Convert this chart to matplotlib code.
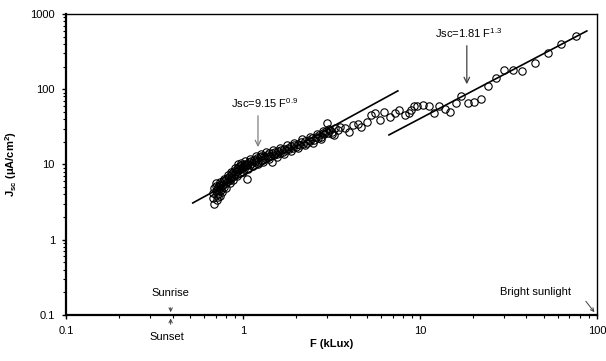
import numpy as np
import matplotlib
matplotlib.use('Agg')
import matplotlib.pyplot as plt
from matplotlib.ticker import FixedLocator, FixedFormatter, LogLocator, NullFormatter

plt.rcParams['font.family'] = ['Liberation Sans', 'DejaVu Sans']
plt.rcParams['mathtext.fontset'] = 'custom'
plt.rcParams['mathtext.rm'] = 'Liberation Sans'
plt.rcParams['mathtext.bf'] = 'Liberation Sans:bold'

# illumination F (kLux) and short-circuit current Jsc (uA/cm2)
F_data = [0.68, 0.68, 0.69, 0.69, 0.70, 0.70, 0.70, 0.71, 0.71, 0.72, 0.72, 0.73, 0.73,
          0.74, 0.74, 0.75, 0.75, 0.76, 0.77, 0.77, 0.78, 0.79, 0.80, 0.81, 0.82, 0.83,
          0.84, 0.85, 0.86, 0.87, 0.88, 0.89, 0.90, 0.91, 0.92, 0.93, 0.94, 0.95, 0.96,
          0.97, 0.98, 0.99, 1.00, 1.01, 1.02, 1.03, 1.05, 1.05, 1.06, 1.08, 1.10, 1.11,
          1.13, 1.15, 1.17, 1.19, 1.20, 1.22, 1.24, 1.26, 1.27, 1.29, 1.31, 1.33, 1.36,
          1.38, 1.40, 1.42, 1.45, 1.46, 1.49, 1.52, 1.55, 1.58, 1.61, 1.64, 1.68, 1.71,
          1.75, 1.79, 1.83, 1.87, 1.91, 1.95, 2.00, 2.04, 2.09, 2.14, 2.19, 2.24, 2.29,
          2.35, 2.40, 2.46, 2.52, 2.58, 2.64, 2.70, 2.76, 2.82, 2.88, 2.97, 2.95, 3.02,
          3.10, 3.18, 3.25, 3.32, 3.42,
          0.70, 0.72, 0.74, 0.76, 0.78, 0.80, 0.82, 0.84, 0.86, 0.88, 0.90, 0.92, 0.94,
          0.96, 0.98, 1.00, 1.03, 1.07, 1.10, 1.14, 1.18, 1.22, 1.26, 1.30, 1.35, 1.40,
          1.48, 1.55, 1.62, 1.70, 1.78, 1.86, 1.95, 2.05, 2.15, 2.25, 2.38, 2.50, 2.62,
          2.75, 2.85, 3.05, 3.20,
          3.53, 3.78, 3.99, 4.2, 4.46, 4.66, 5.0, 5.3, 5.55, 5.94, 6.3, 6.78, 7.2, 7.65,
          8.2, 8.7, 8.95, 9.3, 9.6, 10.4, 11.2, 12.0, 12.8, 13.8, 14.7, 15.9, 17.1, 18.7,
          20.3, 22.1, 24.3, 26.8, 29.9, 33.6, 37.6, 44.5, 53, 62.9, 76.4]
J_data = [3.6, 4.2, 3.0, 4.8, 3.9, 4.4, 5.6, 3.4, 4.6, 5.0, 4.1, 5.3, 4.5,
          4.9, 3.8, 5.5, 4.6, 5.1, 6.0, 5.4, 5.0, 6.3, 5.7, 6.6, 6.0, 6.9,
          6.3, 7.2, 6.7, 7.6, 7.0, 8.3, 7.4, 7.9, 8.8, 8.2, 9.2, 8.5, 9.6,
          8.9, 9.9, 9.1, 9.4, 8.6, 10.0, 9.5, 6.5, 10.3, 9.7, 10.8, 9.9, 11.2,
          10.4, 11.6, 10.7, 11.5, 12.2, 11.0, 12.6, 11.6, 12.8, 11.9, 13.0, 12.2, 13.5,
          12.6, 14.3, 13.1, 10.9, 14.0, 13.4, 14.6, 13.8, 15.1, 14.3, 15.6, 14.5, 16.2,
          15.4, 16.8, 16.0, 17.4, 16.6, 18.2, 17.3, 18.9, 18.0, 19.7, 18.7, 20.6, 19.5,
          21.4, 20.3, 22.3, 21.2, 23.5, 22.2, 24.8, 23.4, 26.0, 25.1, 35.4, 27.5, 26.4,
          28.5, 27.2, 24.8, 30.5, 29.0,
          5.2, 3.7, 5.8, 4.3, 6.4, 4.9, 7.2, 5.6, 8.0, 6.2, 8.9, 7.0, 10.0,
          7.8, 10.6, 8.0, 11.0, 8.8, 12.0, 9.6, 12.8, 10.2, 13.8, 10.8, 14.6, 11.8,
          15.8, 12.6, 16.8, 13.8, 18.0, 15.0, 19.5, 16.5, 21.5, 18.0, 23.0, 19.5, 25.5,
          21.5, 27.5, 29.5, 25.5,
          31.4, 30.4, 27.4, 33, 35, 31.5, 37, 45.5, 47.8, 39, 50, 43, 47.8, 52.9,
          45.4, 48, 52.9, 59, 60, 62, 60, 48, 59, 54, 50.5, 66, 81, 66,
          68, 73, 110, 140, 180, 180, 176, 222, 306, 395, 510]

# the two power-law fit lines as drawn (end points)
fit1_F = [0.52, 7.5]
fit1_J = [3.08, 95]
fit2_F = [6.68, 87.7]
fit2_J = [24.7, 594]

x_ticks = [0.1, 1, 10, 100]
x_labels = ['0.1', '1', '10', '100']
y_ticks = [0.1, 1, 10, 100, 1000]
y_labels = ['0.1', '1', '10', '100', '1000']

fig = plt.figure(figsize=(6.06, 3.61), dpi=100)
ax = fig.add_axes([0.109, 0.1274, 0.876, 0.834])

ax.plot(fit1_F, fit1_J, color='black', lw=1.2, zorder=2)
ax.plot(fit2_F, fit2_J, color='black', lw=1.2, zorder=2)
ax.plot(F_data, J_data, linestyle='none', marker='o', ms=5.3, mfc='none',
        mec='black', mew=0.8, zorder=3)

ax.set_xscale('log')
ax.set_yscale('log')
ax.set_xlim(0.1, 100)
ax.set_ylim(0.1, 1000)

ax.xaxis.set_major_locator(FixedLocator(x_ticks))
ax.xaxis.set_major_formatter(FixedFormatter(x_labels))
ax.yaxis.set_major_locator(FixedLocator(y_ticks))
ax.yaxis.set_major_formatter(FixedFormatter(y_labels))
ax.xaxis.set_minor_locator(LogLocator(base=10, subs=np.arange(2, 10)))
ax.yaxis.set_minor_locator(LogLocator(base=10, subs=np.arange(2, 10)))
ax.xaxis.set_minor_formatter(NullFormatter())
ax.yaxis.set_minor_formatter(NullFormatter())
ax.tick_params(which='major', direction='out', length=3, width=1, labelsize=8, pad=5)
ax.tick_params(which='minor', direction='out', length=2, width=0.8)

for s in ['left', 'bottom']:
    ax.spines[s].set_linewidth(1.6)
for s in ['top', 'right']:
    ax.spines[s].set_linewidth(1.0)

ax.set_xlabel('F (kLux)', fontsize=8, fontweight='bold', labelpad=2)
ax.set_ylabel(r'J$_\mathbf{sc}$ ($\mathbf{\mu}$A/cm$^\mathbf{2}$)', fontsize=8,
              fontweight='bold', labelpad=8)

ax.text(1.33, 65.6, r'Jsc=9.15 F$^{0.9}$', fontsize=8, ha='center', va='center')
ax.annotate('', xy=(1.215, 15.6), xytext=(1.215, 48.3),
            arrowprops=dict(arrowstyle='->', color='#808080', lw=0.9))
ax.text(18.9, 560, r'Jsc=1.81 F$^{1.3}$', fontsize=8, ha='center', va='center')
ax.annotate('', xy=(18.4, 107), xytext=(18.4, 412),
            arrowprops=dict(arrowstyle='->', color='#404040', lw=0.9))

ax.text(0.387, 0.196, 'Sunrise', fontsize=8, ha='center', va='center')
ax.annotate('', xy=(0.39, 0.1), xytext=(0.39, 0.136),
            arrowprops=dict(arrowstyle='->', color='#404040', lw=0.7,
                            mutation_scale=6), annotation_clip=False)
ax.text(0.37, 0.051, 'Sunset', fontsize=8, ha='center', va='center', clip_on=False)
ax.annotate('', xy=(0.39, 0.098), xytext=(0.39, 0.069),
            arrowprops=dict(arrowstyle='->', color='#404040', lw=0.7,
                            mutation_scale=6), annotation_clip=False)

ax.text(45.2, 0.202, 'Bright sunlight', fontsize=8, ha='center', va='center')
ax.annotate('', xy=(99, 0.102), xytext=(84.6, 0.163),
            arrowprops=dict(arrowstyle='->', color='#404040', lw=0.7,
                            mutation_scale=6), annotation_clip=False)

fig.savefig('out.png', dpi=100)
